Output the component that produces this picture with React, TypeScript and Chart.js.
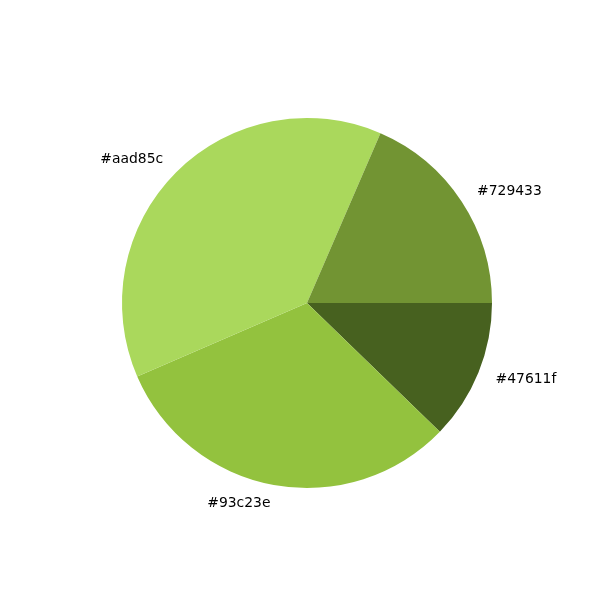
import React, { useEffect, useRef } from "react";
import { Chart, registerables } from "chart.js";

Chart.register(...registerables);

// Matplotlib order (counterclockwise from 3 o'clock)
const labels = ["#729433", "#aad85c", "#93c23e", "#47611f"];
const values = [18.5, 38.0, 31.25, 12.25];
const colors = ["#729433", "#aad85c", "#93c23e", "#47611f"];

export default function App() {
  const ref = useRef<HTMLCanvasElement | null>(null);
  useEffect(() => {
    document.body.style.margin = "0";
    const canvas = ref.current!;
    // Chart.js draws clockwise, so reverse to match matplotlib's counterclockwise order
    const rLabels = [...labels].reverse();
    const rValues = [...values].reverse();
    const rColors = [...colors].reverse();

    const labelPlugin = {
      id: "outerLabels",
      afterDatasetsDraw(chart: any) {
        const ctx = chart.ctx;
        const meta = chart.getDatasetMeta(0);
        ctx.save();
        ctx.font = "13.9px 'DejaVu Sans'";
        ctx.fillStyle = "#000";
        ctx.textBaseline = "middle";
        meta.data.forEach((arc: any, i: number) => {
          const p = arc.getProps(["x", "y", "startAngle", "endAngle", "outerRadius"], true);
          const mid = (p.startAngle + p.endAngle) / 2;
          const r = p.outerRadius * 1.1;
          const x = p.x + Math.cos(mid) * r;
          const y = p.y + Math.sin(mid) * r;
          ctx.textAlign = Math.cos(mid) >= 0 ? "left" : "right";
          ctx.fillText(rLabels[i], x, y);
        });
        ctx.restore();
      },
    };

    const chart = new Chart(canvas, {
      type: "pie",
      data: {
        labels: rLabels,
        datasets: [
          {
            data: rValues,
            backgroundColor: rColors,
            borderWidth: 0,
            hoverOffset: 0,
          },
        ],
      },
      options: {
        animation: false,
        responsive: false,
        rotation: 90,
        layout: { padding: { left: 122, right: 108, top: 118, bottom: 112 } },
        plugins: {
          legend: { display: false },
          tooltip: { enabled: false },
        },
      },
      plugins: [labelPlugin],
    });
    return () => chart.destroy();
  }, []);
  return <canvas ref={ref} width={600} height={600} style={{ display: "block" }} />;
}
